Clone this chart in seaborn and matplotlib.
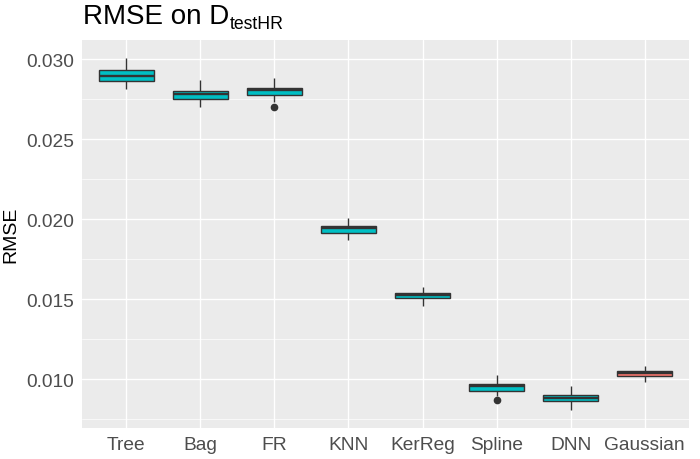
import numpy as np
import pandas as pd
import matplotlib
matplotlib.use('Agg')
import matplotlib.pyplot as plt
import seaborn as sns
from matplotlib.ticker import MultipleLocator, FormatStrFormatter

# RMSE replications per method
methods = ['Tree', 'Bag', 'FR', 'KNN', 'KerReg', 'Spline', 'DNN', 'Gaussian']
tree = [0.02813, 0.02840, 0.02864, 0.02880, 0.02896, 0.02910, 0.02931, 0.02965, 0.03006]
bag = [0.02702, 0.02730, 0.02752, 0.02766, 0.02779, 0.02788, 0.02798, 0.02830, 0.02866]
fr = [0.02702, 0.02729, 0.02773, 0.02790, 0.02808, 0.02812, 0.02819, 0.02850, 0.02881]
knn = [0.01871, 0.01890, 0.01911, 0.01928, 0.01942, 0.01948, 0.01954, 0.01980, 0.02006]
kerreg = [0.01458, 0.01480, 0.01504, 0.01515, 0.01525, 0.01530, 0.01536, 0.01555, 0.01575]
spline = [0.00866, 0.00896, 0.00928, 0.00945, 0.00958, 0.00963, 0.00968, 0.01000, 0.01027]
dnn = [0.00808, 0.00835, 0.00860, 0.00872, 0.00883, 0.00892, 0.00900, 0.00925, 0.00954]
gaussian = [0.00983, 0.01000, 0.01017, 0.01028, 0.01038, 0.01045, 0.01052, 0.01065, 0.01081]
groups = ['other'] * 7 + ['Gaussian']

samples = [tree, bag, fr, knn, kerreg, spline, dnn, gaussian]
rows = []
for m, g, vals in zip(methods, groups, samples):
    for v in vals:
        rows.append({'method': m, 'group': g, 'RMSE': v})
df = pd.DataFrame(rows)

sns.set_theme(style='darkgrid', rc={
    'axes.facecolor': '#EBEBEB',
    'grid.color': 'white',
    'axes.edgecolor': '#EBEBEB',
})
plt.rcParams['font.family'] = ['Liberation Sans', 'DejaVu Sans']

fig, ax = plt.subplots(figsize=(7, 4.6), dpi=100)
fig.subplots_adjust(left=82/700, right=689/700, top=1-40.7/460, bottom=1-429/460)

sns.boxplot(data=df, x='method', y='RMSE', hue='group', order=methods,
            palette={'other': '#00BFC4', 'Gaussian': '#F8766D'},
            saturation=1, dodge=False, legend=False, width=0.75,
            linecolor='#333333', linewidth=1.0, fliersize=4.5, showcaps=False,
            medianprops={'linewidth': 1.7, 'color': '#333333'},
            flierprops={'marker': 'o', 'markerfacecolor': '#333333',
                        'markeredgecolor': '#333333'},
            ax=ax)

ax.set_xlim(-0.6, 7.6)
ax.set_ylim(0.0069375, 0.0312063)
ax.yaxis.set_major_locator(MultipleLocator(0.005))
ax.yaxis.set_minor_locator(MultipleLocator(0.0025))
ax.yaxis.set_major_formatter(FormatStrFormatter('%.3f'))
ax.grid(which='major', color='white', linewidth=1.0)
ax.grid(which='minor', axis='y', color='white', linewidth=0.5)
ax.set_axisbelow(True)
for s in ax.spines.values():
    s.set_visible(False)
ax.tick_params(which='major', length=2.8, width=0.8, color='#333333',
               labelcolor='#4D4D4D', labelsize=13.8, pad=3)
ax.tick_params(which='minor', length=0)
ax.set_xlabel('')
ax.set_ylabel('RMSE', fontsize=14, color='black', labelpad=5)

# title with a smaller subscript, as in the reference
title = fig.text(83/700, 1 - 24/460, 'RMSE on D', fontsize=20,
                 ha='left', va='baseline', color='black')
fig.canvas.draw()
bb = title.get_window_extent()
fig.text((bb.x1 + 1) / 700, 1 - 29.3/460, 'testHR', fontsize=12.7,
         ha='left', va='baseline', color='black')

fig.savefig('out.png', dpi=100)
